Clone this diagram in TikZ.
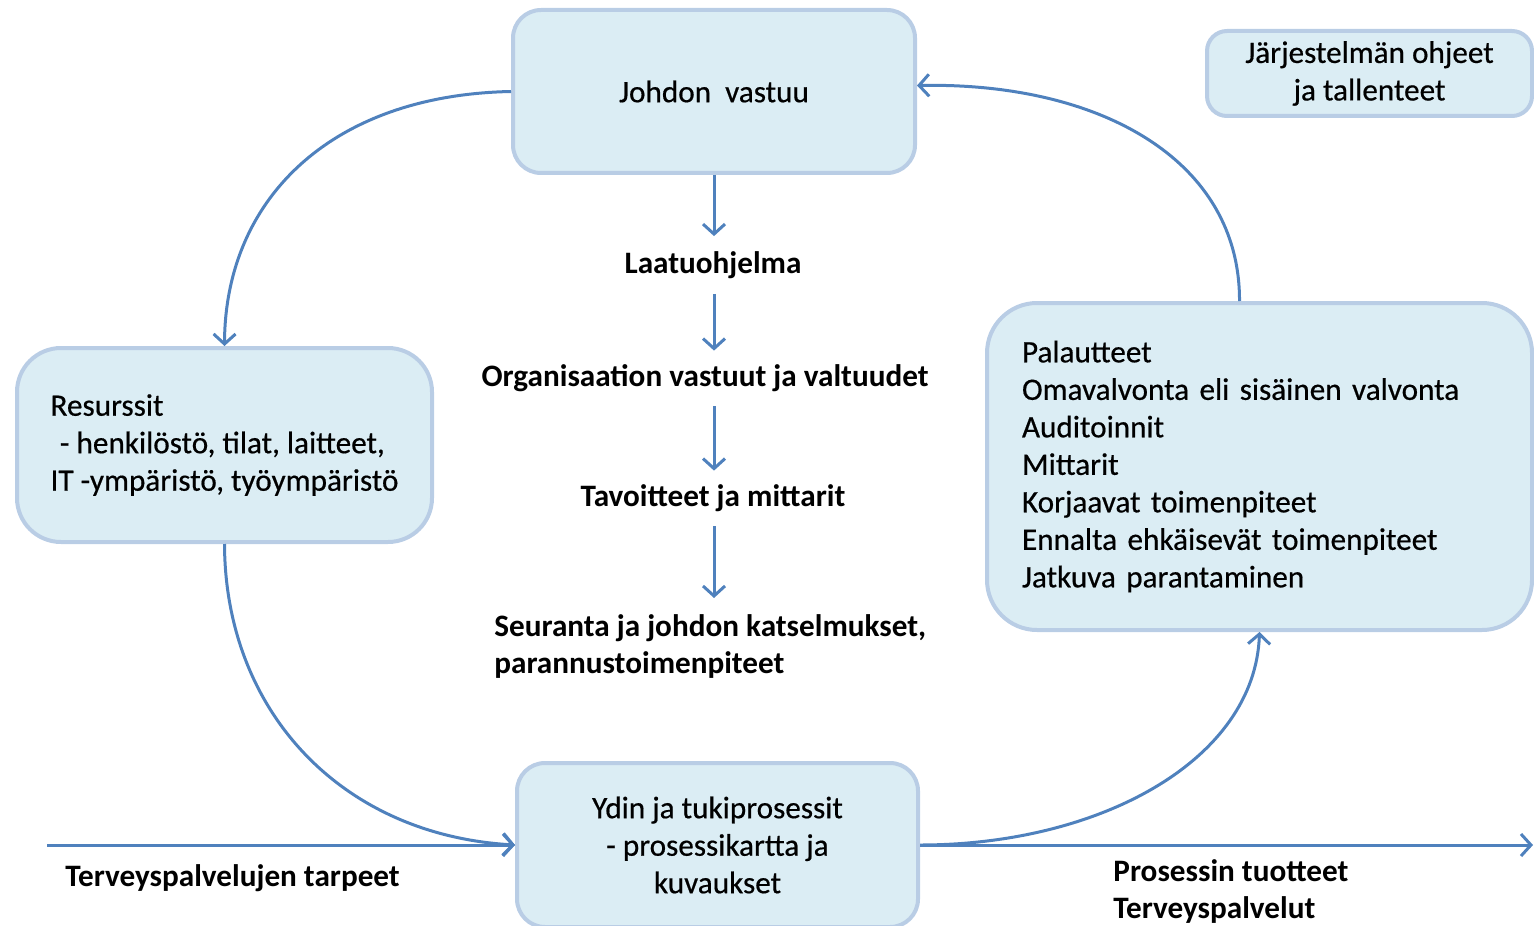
\documentclass[tikz,border=0pt]{standalone}
\usepackage{fontspec}
\setmainfont{Carlito}
\newfontface\boxfont{Carlito}[FakeBold=0.5]
\usetikzlibrary{arrows.meta}
\definecolor{boxfill}{RGB}{219,237,244}
\definecolor{boxline}{RGB}{185,205,229}
\definecolor{arrowblue}{RGB}{79,129,189}
\begin{document}
\begin{tikzpicture}[x=0.5pt,y=-0.5pt,
 box/.style={draw=boxline, line width=2pt, fill=boxfill, rounded corners=14pt, inner sep=0pt, font=\boxfont\fontsize{15.6}{18.75}\selectfont},
 lbl/.style={font=\bfseries\fontsize{15.6}{18.75}\selectfont, inner sep=0pt},
 conn/.style={draw=arrowblue, line width=1.5pt, -{Straight Barb[length=5pt,width=11pt,line width=1.5pt]}},
]
\useasboundingbox (0,0) rectangle (1534,925);
\node[box, minimum width=201pt, minimum height=81.5pt] (johto) at (714,91.5) {Johdon\ \ vastuu};
\node[box, rounded corners=10pt, minimum width=162.5pt, minimum height=42.5pt, align=center] (ohjeet) at (1369.5,73.5) {Järjestelmän ohjeet\\ja tallenteet};
\node[box, rounded corners=22pt, minimum width=207.5pt, minimum height=97pt, align=left] (res) at (224.5,445) {Resurssit\\\hspace{0.3em}- henkilöstö, tilat, laitteet,\\IT -ympäristö, työympäristö};
\node[box, rounded corners=25pt, minimum width=272.5pt, minimum height=163.5pt, text width=237.5pt, align=left] (palaute) at (1259.5,466.5) {Palautteet\\Omavalvonta eli sisäinen valvonta\\Auditoinnit\\Mittarit\\Korjaavat toimenpiteet\\Ennalta ehkäisevät toimenpiteet\\Jatkuva parantaminen\\[4pt]};
\node[box, minimum width=200.5pt, minimum height=82pt, align=center] (ydin) at (717.5,845) {Ydin ja tukiprosessit\\- prosessikartta ja\\kuvaukset};

\node[lbl, minimum height=28.5pt] (laatu) at (713,265) {Laatuohjelma};
\node[lbl, minimum height=27.5pt] (org) at (705,378.5) {Organisaation vastuut ja valtuudet};
\node[lbl, minimum height=27.5pt] (tav) at (713,498.5) {Tavoitteet ja mittarit};
\node[lbl, anchor=north west, align=left, inner ysep=8pt] (seur) at (494,598) {Seuranta ja johdon katselmukset,\\parannustoimenpiteet};

\draw[conn] (johto.south) -- (johto.south |- laatu.north);
\draw[conn] (laatu.south -| johto.south) -- (johto.south |- org.north);
\draw[conn] (org.south -| johto.south) -- (johto.south |- tav.north);
\draw[conn] (tav.south -| johto.south) -- (johto.south |- seur.north);

\draw[conn] (johto.west) .. controls (330,95) and (225,200) .. (res.north);
\draw[conn] (res.south) .. controls (225,710) and (340,835) .. (ydin.west);
\draw[conn] (ydin.east) .. controls (1100,845) and (1255,760) .. (palaute.south);
\draw[conn] ([xshift=-10pt]palaute.north) .. controls (1240,160) and (1100,82) .. ([yshift=3pt]johto.east);

\coordinate (inL) at (47,845);
\coordinate (outR) at (1533,845);
\draw[conn] (inL) -- (ydin.west);
\draw[conn] (ydin.east) -- (outR);

\node[lbl, anchor=west] (tarpeet) at (65,878) {Terveyspalvelujen tarpeet};
\node[lbl, anchor=north west, align=left] (tuotteet) at (1113,859) {Prosessin tuotteet\\Terveyspalvelut};
\end{tikzpicture}
\end{document}
